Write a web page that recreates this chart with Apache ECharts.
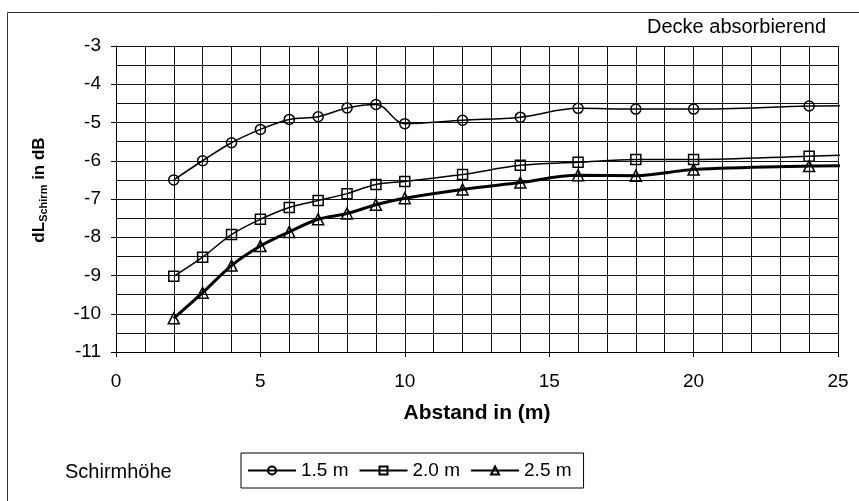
<!DOCTYPE html>
<html>
<head>
<meta charset="utf-8">
<script src="https://cdn.jsdelivr.net/npm/echarts@6/dist/echarts.min.js"></script>
<style>
html,body{margin:0;padding:0;background:#fff;}
#c{width:859px;height:501px;}
</style>
</head>
<body>
<div id="c"></div>
<script>
// Distance (m)
const distances = [2, 3, 4, 5, 6, 7, 8, 9, 10, 12, 14, 16, 18, 20, 24];
// dL_Schirm (dB) per screen height
const h15 = [-6.5, -6.0, -5.53, -5.18, -4.92, -4.85, -4.62, -4.53, -5.03, -4.94, -4.86, -4.63, -4.65, -4.65, -4.57];
const h20 = [-9.02, -8.52, -7.93, -7.53, -7.22, -7.04, -6.86, -6.62, -6.54, -6.36, -6.12, -6.04, -5.97, -5.97, -5.88];
const h25 = [-10.12, -9.45, -8.74, -8.23, -7.86, -7.53, -7.38, -7.15, -6.98, -6.75, -6.57, -6.38, -6.39, -6.23, -6.14];
// line continuation past the right edge (x, y)
const tailX = 25.3;
const tails = [-4.56, -5.85, -6.13];
const seriesNames = ['1.5 m', '2.0 m', '2.5 m'];
const yTicks = [-3, -4, -5, -6, -7, -8, -9, -10, -11];
const xTicks = [0, 5, 10, 15, 20, 25];

function build(vals, tail) {
  const d = distances.map((x, i) => [x, vals[i]]);
  d.push({ value: [tailX, tail], symbol: 'none' });
  return d;
}

const FONT = '"Liberation Sans", Arial, sans-serif';
const chart = echarts.init(document.getElementById('c'));
const symbols = ['circle', 'rect', 'triangle'];
const widths = [1.5, 1.5, 3];
const sizes = [10, 10, 11];
const allVals = [h15, h20, h25];

chart.setOption({
  animation: false,
  backgroundColor: '#fff',
  textStyle: { fontFamily: FONT, color: '#000' },
  grid: { left: 116, right: 21, top: 46, bottom: 149, containLabel: false },
  xAxis: {
    type: 'value', min: 0, max: 25, interval: 5,
    name: 'Abstand in (m)', nameLocation: 'middle', nameGap: 51,
    nameTextStyle: { fontFamily: FONT, fontSize: 21, fontWeight: 'bold', color: '#000' },
    axisLine: { show: true, onZero: false, lineStyle: { color: '#000', width: 1 } },
    axisTick: { show: true, length: 5, lineStyle: { color: '#000' } },
    axisLabel: { fontFamily: FONT, fontSize: 19, color: '#000', margin: 20,
      formatter: v => xTicks.includes(v) ? String(v) : '' },
    splitLine: { show: true, lineStyle: { color: '#111', width: 1 } },
    minorTick: { show: true, splitNumber: 5, length: 0 },
    minorSplitLine: { show: true, lineStyle: { color: '#111', width: 1 } }
  },
  yAxis: {
    type: 'value', min: -11, max: -3, interval: 1,
    name: '{b|dL}{s|Schirm}{b| in dB}', nameLocation: 'middle', nameGap: 67, nameRotate: 90,
    nameTextStyle: {
      padding: [0, 0, 0, 18],
      rich: {
        b: { fontFamily: FONT, fontSize: 17, fontWeight: 'bold', color: '#000' },
        s: { fontFamily: FONT, fontSize: 11, fontWeight: 'bold', color: '#000', verticalAlign: 'bottom', padding: [9, 0, 0, 0] }
      }
    },
    axisLine: { show: true, lineStyle: { color: '#000', width: 1 } },
    axisTick: { show: true, length: 5, lineStyle: { color: '#000' } },
    axisLabel: { fontFamily: FONT, fontSize: 19, color: '#000', margin: 15,
      formatter: v => yTicks.includes(v) ? String(v) : '' },
    splitLine: { show: true, lineStyle: { color: '#111', width: 1 } },
    minorTick: { show: true, splitNumber: 2, length: 0 },
    minorSplitLine: { show: true, lineStyle: { color: '#111', width: 1 } }
  },
  legend: {
    left: 241, top: 453,
    data: seriesNames,
    itemWidth: 48, itemHeight: 10, itemGap: 10,
    padding: [8, 12, 8, 6],
    borderColor: '#000', borderWidth: 1,
    textStyle: { fontFamily: FONT, fontSize: 19, color: '#000' }
  },
  graphic: [
    { type: 'rect', shape: { x: 7.5, y: 12.5, width: 860, height: 500 },
      style: { fill: 'none', stroke: '#333', lineWidth: 1 }, silent: true, z: -1 },
    { type: 'text', x: 826, y: 27,
      style: { text: 'Decke absorbierend', font: '20px "Liberation Sans", Arial, sans-serif', fill: '#000',
        textAlign: 'right', textVerticalAlign: 'middle' } },
    { type: 'text', x: 65, y: 472,
      style: { text: 'Schirmhöhe', font: '20px "Liberation Sans", Arial, sans-serif', fill: '#000',
        textAlign: 'left', textVerticalAlign: 'middle' } }
  ],
  series: seriesNames.map((n, i) => ({
    name: n,
    type: 'line',
    data: build(allVals[i], tails[i]),
    smooth: 0.35,
    clip: false,
    symbol: symbols[i],
    symbolSize: sizes[i],
    showAllSymbol: true,
    lineStyle: { color: '#000', width: widths[i] },
    itemStyle: { color: 'rgba(255,255,255,0)', borderColor: '#000', borderWidth: 1.5 },
    z: 3 + i
  }))
});
</script>
</body>
</html>
